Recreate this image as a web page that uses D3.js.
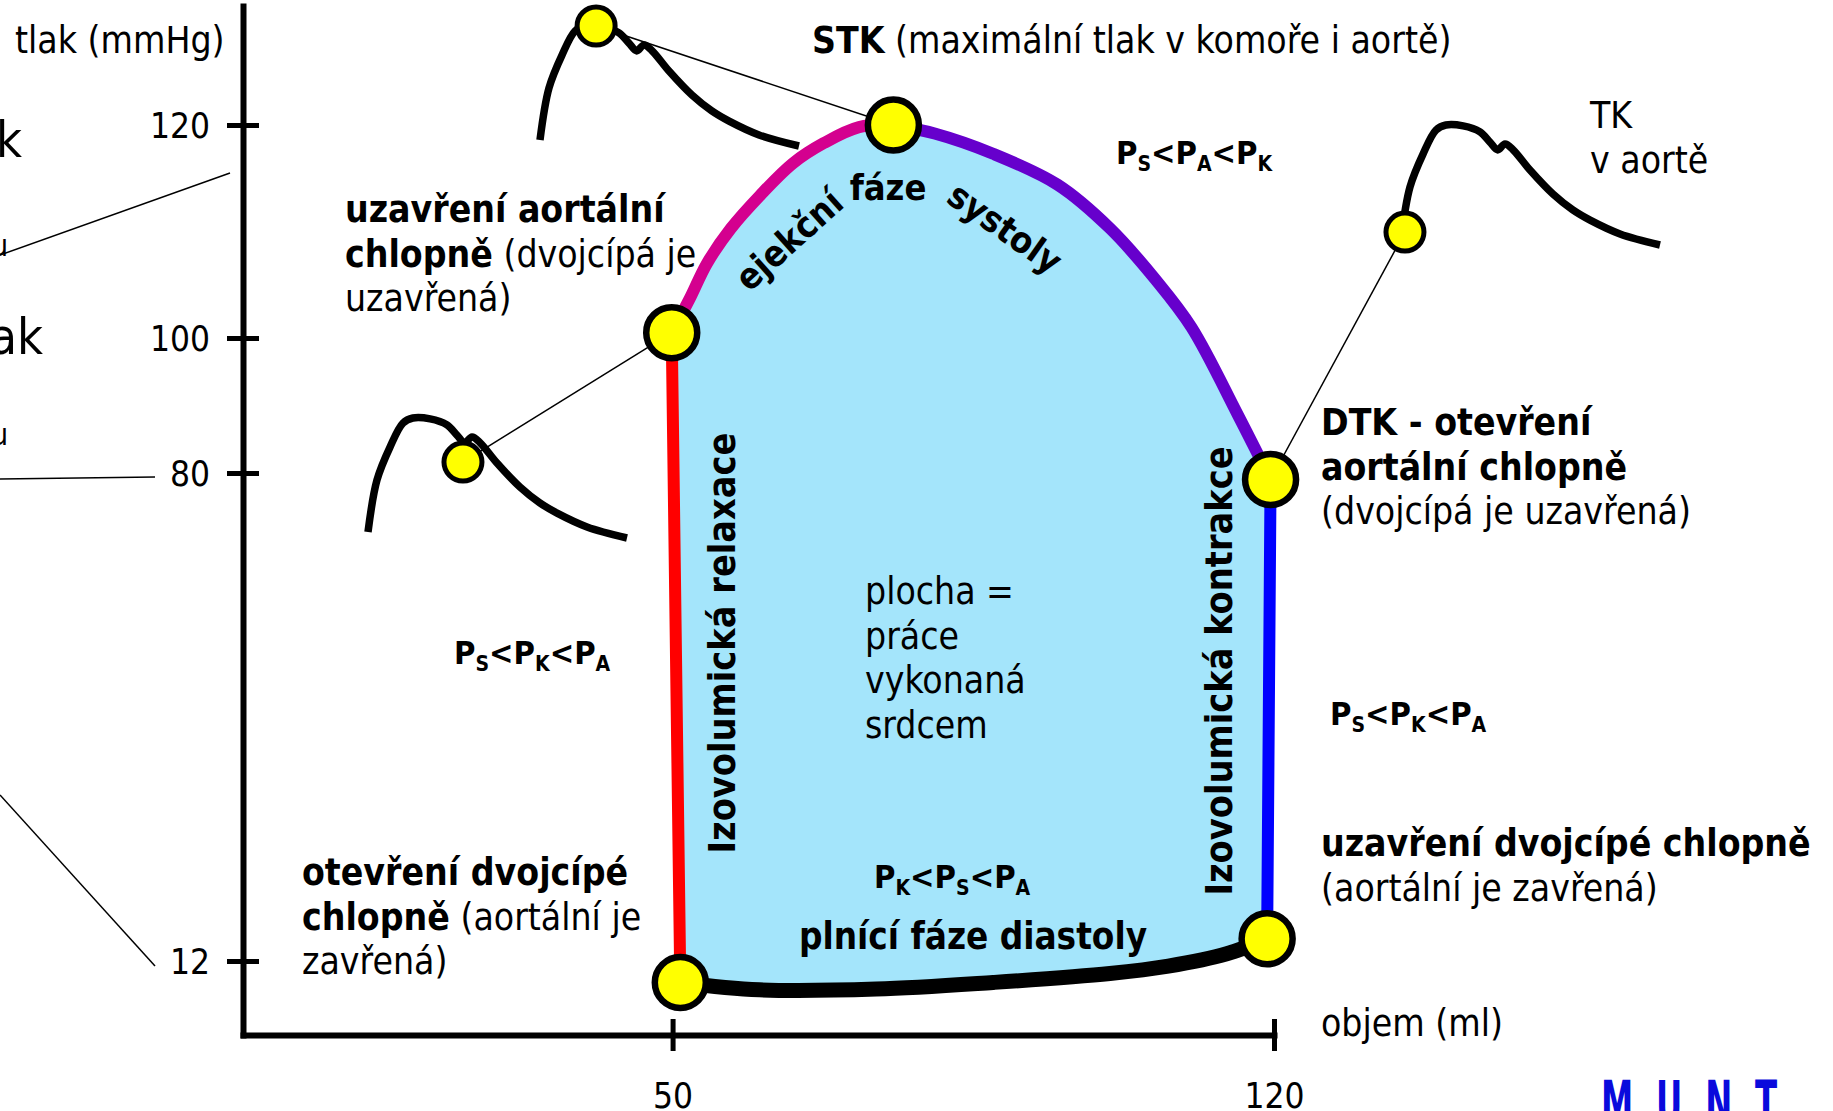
<!DOCTYPE html>
<html lang="cs">
<head>
<meta charset="UTF-8">
<title>Pracovní diagram levé komory</title>
<script src="https://cdn.jsdelivr.net/npm/d3@7"></script>
<style>
  body { margin: 0; background: #fff; }
  svg { display: block; }
  text { font-family: "DejaVu Sans Condensed", "DejaVu Sans", sans-serif; fill: #000; }
</style>
</head>
<body>
<svg id="chart" width="1833" height="1111"></svg>
<script>
// osy
var yTicks = [12, 80, 100, 120];
var xTicks = [50, 120];

// smycka tlak (mmHg) - objem (ml), po fazich
var relaxace  = [[49.9, 100.5], [50.9, 9.1]];
var plneni    = [[50.9, 9.1], [60.1, 8.1], [73.7, 8.2], [87.3, 9.1], [100.9, 10.3], [107.7, 11.3], [114.5, 13], [119.2, 15.1]];
var kontrakce = [[119.2, 15.1], [119.6, 79.1]];
var ejekce2   = [[119.6, 79.1], [115.8, 88.6], [110.4, 101], [106.3, 105.4], [100.9, 110.3], [94.8, 114.4], [87.3, 117.3], [80.5, 119.2], [75.7, 120]];
var ejekce1   = [[75.7, 120], [71.7, 119.8], [67.6, 118.3], [64.0, 116.4], [60.2, 113.4], [56.8, 110.3], [54.0, 107.0], [52.0, 103.7], [49.9, 100.5]];
// chlopne: otevreni dvojcipe, uzavreni dvojcipe, DTK, STK, uzavreni aortalni
var chlopne = [[50.9, 9.1], [119.2, 15.1], [119.6, 79.1], [75.7, 120], [49.9, 100.5]];

// tlak v aorte (maly obrazek), cas ms / tlak mmHg
var aortaT = [0, 10.4, 25.5, 40.5, 52, 72, 91.5, 103, 112, 120.5, 130, 149.4, 176, 199, 219, 253.7, 300];
var aortaP = [82, 99.3, 110.3, 118.3, 120, 119.7, 117.7, 114.3, 111.7, 113.7, 111.7, 105, 97, 91.7, 88.3, 83.7, 80];

var svg = d3.select("#chart");

var x = d3.scaleLinear().domain([0, 120]).range([243, 1274]);
// osa tlaku neni v puvodnim obrazku linearni
var y = d3.scaleLinear().domain([2, 12, 80, 100, 120, 134]).range([1035, 961, 473, 338, 125, 6]);

// --- odkazove cary a zlomky textu vlevo (orezany sousedni obrazek)
svg.append("line").attr("x1", 0).attr("y1", 255).attr("x2", 230).attr("y2", 173).attr("stroke", "#000").attr("stroke-width", 1.5);
svg.append("line").attr("x1", 0).attr("y1", 479).attr("x2", 155).attr("y2", 477).attr("stroke", "#000").attr("stroke-width", 1.5);
svg.append("line").attr("x1", 0).attr("y1", 795).attr("x2", 155).attr("y2", 966).attr("stroke", "#000").attr("stroke-width", 1.5);
svg.append("text").attr("x", 22).attr("y", 157).attr("text-anchor", "end").style("font-size", "50px").text("k");
svg.append("text").attr("x", 8).attr("y", 256).attr("text-anchor", "end").style("font-size", "30px").text("u");
svg.append("text").attr("x", 43).attr("y", 354).attr("text-anchor", "end").style("font-size", "50px").text("ak");
svg.append("text").attr("x", 8).attr("y", 445).attr("text-anchor", "end").style("font-size", "30px").text("u");

// --- smycka
var line = d3.line().x(function(d) { return x(d[0]); }).y(function(d) { return y(d[1]); }).curve(d3.curveCatmullRom);
var faze = [
  {pts: relaxace, color: "#ff0000", w: 12},
  {pts: plneni, color: "#000000", w: 15},
  {pts: kontrakce, color: "#0000ff", w: 12},
  {pts: ejekce2, color: "#6600cc", w: 12},
  {pts: ejekce1, color: "#d4008f", w: 12}
];
var fillD = faze.map(function(f, i) { var d = line(f.pts); return i ? d.replace(/^M/, "L") : d; }).join("") + "Z";
svg.append("path").attr("d", fillD).attr("fill", "#a4e5fb");

svg.selectAll(".faze").data(faze).enter().append("path")
  .attr("class", "faze")
  .attr("d", function(f) { return line(f.pts); })
  .attr("fill", "none")
  .attr("stroke", function(f) { return f.color; })
  .attr("stroke-width", function(f) { return f.w; })
  .attr("stroke-linecap", "round");

// --- osy
var gy = svg.append("g").attr("transform", "translate(" + x(0) + ",0)")
  .call(d3.axisLeft(y).tickValues(yTicks).tickSizeOuter(0).tickSizeInner(16));
var gx = svg.append("g").attr("transform", "translate(0," + y(2) + ")")
  .call(d3.axisBottom(x).tickValues(xTicks).tickSizeOuter(0).tickSizeInner(16));
[gy, gx].forEach(function(g) {
  g.select(".domain").attr("stroke", "#000").attr("stroke-width", 6).attr("stroke-linecap", "square");
  g.selectAll(".tick line").attr("stroke", "#000").attr("stroke-width", 5);
  g.selectAll(".tick text").style("font-size", "35px").attr("font-family", null).attr("fill", "#000");
});
gy.selectAll(".tick line").attr("x1", 16);
gy.selectAll(".tick text").attr("x", -33).attr("dy", "0.36em");
gx.selectAll(".tick line").attr("y1", -16);
gx.selectAll(".tick text").attr("y", 73).attr("dy", 0);

// --- male krivky tlaku v aorte
var vlny = [
  {x0: 540, yb: 146, mark: [65, 120], to: chlopne[3]},
  {x0: 368, yb: 538, mark: [110, 105.3], to: chlopne[4]},
  {x0: 1401, yb: 245, mark: [4.6, 84.3], to: chlopne[2]}
];
var aorta = aortaT.map(function(t, i) { return [t, aortaP[i]]; });
vlny.forEach(function(v) {
  var vx = d3.scaleLinear().domain([0, 300]).range([v.x0, v.x0 + 259]);
  var vy = d3.scaleLinear().domain([80, 120]).range([v.yb, v.yb - 120]);
  svg.append("line")
    .attr("x1", vx(v.mark[0])).attr("y1", vy(v.mark[1]))
    .attr("x2", x(v.to[0])).attr("y2", y(v.to[1]))
    .attr("stroke", "#000").attr("stroke-width", 1.5);
  svg.append("path")
    .attr("d", d3.line().x(function(d) { return vx(d[0]); }).y(function(d) { return vy(d[1]); }).curve(d3.curveCatmullRom)(aorta))
    .attr("fill", "none").attr("stroke", "#000").attr("stroke-width", 7.5).attr("stroke-linejoin", "round");
  svg.append("circle").attr("cx", vx(v.mark[0])).attr("cy", vy(v.mark[1])).attr("r", 19)
    .attr("fill", "#ffff00").attr("stroke", "#000").attr("stroke-width", 5);
});

svg.selectAll(".chlopen").data(chlopne).enter().append("circle")
  .attr("class", "chlopen")
  .attr("cx", function(d) { return x(d[0]); })
  .attr("cy", function(d) { return y(d[1]); })
  .attr("r", 25.5)
  .attr("fill", "#ffff00").attr("stroke", "#000").attr("stroke-width", 6.5);

// --- popisky
function popis(px, py, lines, size) {
  var t = svg.append("text").attr("x", px).attr("y", py).style("font-size", (size || 37) + "px");
  lines.forEach(function(parts, i) {
    parts.forEach(function(p, j) {
      var ts = t.append("tspan").text(p[0]).attr("font-weight", p[1] ? "bold" : "normal");
      if (j == 0) ts.attr("x", px).attr("dy", i == 0 ? 0 : 44.5);
    });
  });
  return t;
}
function tlaky(px, py, subs) {
  var t = svg.append("text").attr("x", px).attr("y", py).attr("font-weight", "bold").style("font-size", "32.5px");
  subs.forEach(function(s, i) {
    t.append("tspan").text((i ? "<" : "") + "P").attr("dy", i ? -7 : 0);
    t.append("tspan").text(s).style("font-size", "21px").attr("dy", 7);
  });
}

popis(15, 53, [[["tlak (mmHg)", 0]]]);
popis(1321, 1036, [[["objem (ml)", 0]]]);
popis(812, 53, [[["STK", 1], [" (maximální tlak v komoře i aortě)", 0]]]);
popis(1590, 128, [[["TK", 0]], [["v aortě", 0]]]);
popis(345, 222, [[["uzavření aortální", 1]], [["chlopně", 1], [" (dvojcípá je", 0]], [["uzavřená)", 0]]]);
popis(1321, 435, [[["DTK - otevření", 1]], [["aortální chlopně", 1]], [["(dvojcípá je uzavřená)", 0]]]);
popis(1321, 856, [[["uzavření dvojcípé chlopně", 1]], [["(aortální je zavřená)", 0]]]);
popis(302, 885, [[["otevření dvojcípé", 1]], [["chlopně", 1], [" (aortální je", 0]], [["zavřená)", 0]]]);
popis(865, 604, [[["plocha =", 0]], [["práce", 0]], [["vykonaná", 0]], [["srdcem", 0]]]);

tlaky(1116, 164, ["S", "A", "K"]);
tlaky(454, 664, ["S", "K", "A"]);
tlaky(1330, 725, ["S", "K", "A"]);
tlaky(874, 888, ["K", "S", "A"]);

svg.append("text").attr("x", 973).attr("y", 949).attr("text-anchor", "middle")
  .attr("font-weight", "bold").style("font-size", "36.5px").text("plnící fáze diastoly");
svg.append("text").attr("transform", "translate(735,643) rotate(-90)").attr("text-anchor", "middle")
  .attr("font-weight", "bold").style("font-size", "37.5px").text("Izovolumická relaxace");
svg.append("text").attr("transform", "translate(1232,671) rotate(-90)").attr("text-anchor", "middle")
  .attr("font-weight", "bold").style("font-size", "37.5px").text("Izovolumická kontrakce");

// obloukovy popis ejekcni faze
[["ejekční", 789, 240, -42], ["fáze", 888, 187, 0], ["systoly", 1005, 228, 35]].forEach(function(w) {
  svg.append("text").attr("transform", "translate(" + w[1] + "," + w[2] + ") rotate(" + w[3] + ")")
    .attr("text-anchor", "middle").attr("dy", "0.35em")
    .attr("font-weight", "bold").style("font-size", "36px").text(w[0]);
});

// logo dole vpravo (orezane)
svg.append("text").attr("transform", "translate(1601,1124) scale(0.6,1)")
  .attr("font-family", "Liberation Sans").attr("font-weight", "bold").style("font-size", "60px")
  .style("letter-spacing", "38px").style("fill", "#0a0adc").text("MUNT");
</script>
</body>
</html>
